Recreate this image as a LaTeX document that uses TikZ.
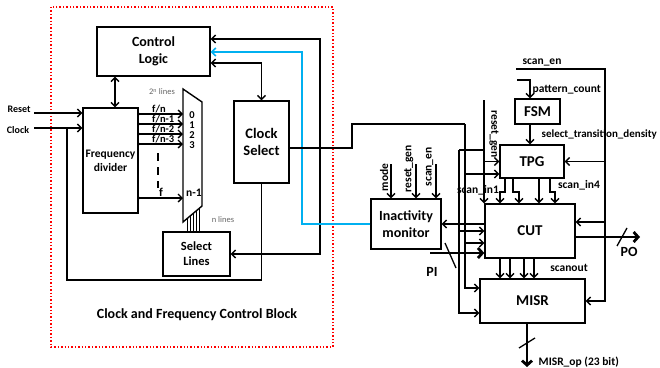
\documentclass[tikz,border=0pt]{standalone}
\usepackage{fontspec}
\setmainfont{Carlito}
\usetikzlibrary{arrows.meta}

\definecolor{wireblue}{RGB}{0,176,240}

\begin{document}
\begin{tikzpicture}[x=1pt,y=-1pt,
  blk/.style={draw,line width=1.4pt,align=center,inner sep=0pt,font=\bfseries\fontsize{14}{17}\selectfont},
  wire/.style={line width=1.3pt},
  arr/.style={wire,-{Straight Barb[length=4pt,width=8pt]}},
  dbl/.style={wire,{Straight Barb[length=4pt,width=8pt]}-{Straight Barb[length=4pt,width=8pt]}},
  bus/.style={line width=2.8pt,-{Straight Barb[length=4.5pt,width=10pt]}},
  sig/.style={inner sep=0.5pt,font=\bfseries\fontsize{11.5}{13}\selectfont},
  tap/.style={inner sep=0pt,font=\bfseries\fontsize{10.5}{11}\selectfont},
  note/.style={inner sep=0pt,text=black!60,font=\fontsize{8.5}{10}\selectfont}]

% Fix the page
\useasboundingbox (0,0) rectangle (660,367);

% Draw the dotted outline of the clock block
\draw[red, dotted, line width=1.4pt] (51,7) rectangle (333,347);
\node[font=\bfseries\fontsize{14}{16}\selectfont] (blocktitle) at (197,315) {Clock and Frequency Control Block};

% Draw blocks
\node[blk, minimum width=113pt, minimum height=49pt] (ctrl) at (153.5,51.5) {Control\\Logic};
\node[blk, font=\bfseries\fontsize{11.5}{14}\selectfont, minimum width=55pt, minimum height=105pt] (fdiv) at (110.5,160.5) {Frequency\\divider};
\node[blk, font=\bfseries\fontsize{14.5}{17}\selectfont, minimum width=55pt, minimum height=82pt] (csel) at (261.5,142) {Clock\\Select};
\node[blk, font=\bfseries\fontsize{12.5}{15}\selectfont, minimum width=67pt, minimum height=44pt] (sel) at (196.5,254) {Select\\Lines};
\node[blk, minimum width=70pt, minimum height=50pt] (mon) at (406,224) {Inactivity\\monitor};
\node[blk, font=\bfseries\fontsize{15}{17}\selectfont, minimum width=45pt, minimum height=25pt] (fsm) at (537.5,111.5) {FSM};
\node[blk, font=\bfseries\fontsize{15}{17}\selectfont, minimum width=64pt, minimum height=33pt] (tpg) at (532,161.5) {TPG};
\node[blk, font=\bfseries\fontsize{15}{17}\selectfont, minimum width=90pt, minimum height=54pt] (cut) at (530,231) {CUT};
\node[blk, font=\bfseries\fontsize{15}{17}\selectfont, minimum width=105pt, minimum height=44pt] (misr) at (532.5,301) {MISR};

% Draw the multiplexer
\coordinate (mtl) at (183,89);
\coordinate (mtr) at (202,102);
\coordinate (mbr) at (202,206);
\coordinate (mbl) at (183,222);
\draw[line width=1.4pt] (mtl) -- (mtr) -- (mbr) -- (mbl) -- cycle;

% Draw the divided clocks
\foreach \y/\lab/\k in {114/{f/n}/0, 124/{f/n-1}/1, 134/{f/n-2}/2, 144/{f/n-3}/3} {
   \fill (fdiv.east |- 0,\y) circle (1.6pt);
   \draw[arr] (fdiv.east |- 0,\y) -- (mtl |- 0,\y);
   \node[tap, anchor=south west] at (152,\y-0.5) {\lab};
   \node[tap] at (192,\y+1.5) {\k};
}
\fill (fdiv.east |- 0,198) circle (1.6pt);
\draw[arr] (fdiv.east |- 0,198) -- (mtl |- 0,198);
\node[tap, font=\bfseries\fontsize{12}{14}\selectfont, anchor=south] at (161,197) {f};
\node[tap, font=\bfseries\fontsize{11.5}{14}\selectfont] at (194,193) {n-1};
\draw[line width=1.4pt, dash pattern=on 8pt off 6pt] (158,153) -- (158,188);

% Draw the n select lines
\foreach \x in {187,190,193,196,199} {
   \pgfmathsetmacro{\ys}{206+(202-\x)*16/19}
   \draw[line width=0.7pt] (\x,\ys) -- (\x,0 |- sel.north);
}
\node[note] at (162,92) {2\textsuperscript{n} lines};
\node[note] at (223,220) {n lines};

% Draw inputs
\node[sig, font=\bfseries\fontsize{10}{11}\selectfont] (rstlab) at (19,109) {Reset};
\node[sig, font=\bfseries\fontsize{10}{11}\selectfont] (clklab) at (18,130) {Clock};
\coordinate (rstin) at (34,113);
\coordinate (clkin) at (34,128);
\coordinate (clktap) at (67,128);
\draw[arr] (rstin) -- (rstin -| fdiv.west);
\draw[arr] (clkin) -- (clkin -| fdiv.west);
\draw[wire] (clktap) -- (67,280) -| (csel.south);

% Control logic links
\coordinate (cf) at ([xshift=4.5pt]fdiv.north);
\draw[dbl] (cf) -- (cf |- ctrl.south);
\draw[dbl] ([yshift=-11.5pt]ctrl.east) -| (csel.north);
\coordinate (cbus) at (320,39);
\draw[dbl] (ctrl.east |- cbus) -- (cbus) |- (sel.east);
\coordinate (cblue) at (302,52);
\draw[arr, wireblue, line width=1.5pt] (mon.west) -| (cblue) -- (ctrl.east |- cblue);

% Clock select output
\coordinate (ck) at (465,124);
\draw[wire] ([yshift=-6pt]csel.east) -| (352,124) -- (ck);
\draw[arr] (ck) |- ([yshift=13pt]misr.west);
\draw[arr] (ck |- 0,174) -- (tpg.west |- 0,174);
\draw[arr] (ck |- 0,243) -- (cut.west |- 0,243);

% Reset generation
\coordinate (rg) at (484,100);
\coordinate (rg2) at (459,150);
\draw[arr] (rg) -- (rg |- cut.north);
\node[sig, rotate=-90] at (494,134) {reset\_gen};
\draw[wire] (rg2) -- (rg2 -| rg);
\draw[arr] (rg2) |- ([yshift=-12pt]misr.west);
\draw[arr] (rg |- tpg.west) -- (tpg.west);
\draw[arr] (rg2 |- cut.west) -- (cut.west);

% Inactivity monitor
\draw[arr] (cut.west |- mon.east) -- (mon.east);
\foreach \x/\lab/\yb in {391/mode/192, 416/reset\_gen/193, 436/scan\_en/187} {
   \draw[arr] (\x,164) -- (\x,0 |- mon.north);
   \node[sig, rotate=90, anchor=south west] at (\x-2,\yb) {\lab};
}

% Primary inputs and outputs
\coordinate (pi) at (430,253);
\draw[bus] (pi) -- (pi -| cut.west);
\draw[wire] (445,243) -- (456,268);
\node[sig, font=\bfseries\fontsize{14}{16}\selectfont] at (432,272) {PI};
\coordinate (po) at (640,237);
\draw[bus] (cut.east |- po) -- (po);
\draw[wire] (617,246) -- (627,228);
\node[sig, font=\bfseries\fontsize{14}{16}\selectfont] at (629,252) {PO};
\coordinate (mop) at (527,367);
\draw[bus] (mop |- misr.south) -- (mop);
\draw[wire] (519,348) -- (535,338);
\node[sig, anchor=west] at (538,362) {MISR\_op (23 bit)};

% Test pattern side
\coordinate (sen) at (516,69);
\coordinate (senx) at (605,69);
\draw[arr] (sen) -- (senx) |- (misr.east);
\draw[arr] (senx |- tpg.east) -- (tpg.east);
\draw[arr] (senx |- 0,222) -- (cut.east |- 0,222);
\node[sig] at (542,62) {scan\_en};
\coordinate (pc) at (517,80);
\draw[arr] (pc) -| ([xshift=-7.5pt]fsm.north);
\node[sig, anchor=west] at (532,90) {pattern\_count};
\coordinate (fo) at ([xshift=-7.5pt]fsm.south);
\draw[arr] (fo) -- (fo |- tpg.north);
\node[sig, font=\bfseries\fontsize{11}{13}\selectfont, anchor=west] at (541,134) {select\_transition\_density};

% TPG to CUT
\foreach \a/\b in {505/500, 513/519, 539/539, 550/555} {
   \draw[arr] (\a,0 |- tpg.south) -- (\a,192) -| (\b,0 |- cut.north);
}
\node[sig] at (478,190) {scan\_in1};
\node[sig] at (579,185) {scan\_in4};

% CUT to MISR
\foreach \x in {500,510,524,534} {
   \draw[arr] (\x,0 |- cut.south) -- (\x,0 |- misr.north);
}
\node[sig] at (569,268) {scanout};

\end{tikzpicture}
\end{document}
